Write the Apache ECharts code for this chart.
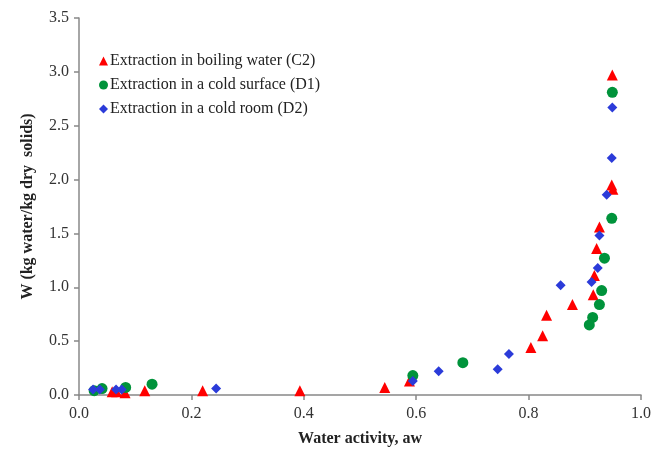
<!DOCTYPE html>
<html><head><meta charset="utf-8">
<script src="https://cdn.jsdelivr.net/npm/echarts@6/dist/echarts.min.js"></script>
<style>html,body{margin:0;padding:0;background:#fff}#c{width:670px;height:454px}</style>
</head><body><div id="c"></div>
<script>
const seriesNames = ["Extraction in boiling water (C2)", "Extraction in a cold surface (D1)", "Extraction in a cold room (D2)"];
const c2 = [[0.949,2.97],[0.948,1.95],[0.950,1.91],[0.926,1.56],[0.921,1.36],[0.917,1.11],[0.915,0.93],[0.878,0.84],[0.832,0.74],[0.825,0.55],[0.804,0.44],[0.588,0.13],[0.544,0.07],[0.393,0.04],[0.220,0.04],[0.117,0.04],[0.082,0.02],[0.067,0.03],[0.059,0.03]];
const d1 = [[0.949,2.81],[0.948,1.64],[0.935,1.27],[0.930,0.97],[0.926,0.84],[0.914,0.72],[0.908,0.65],[0.683,0.30],[0.594,0.18],[0.130,0.10],[0.083,0.07],[0.041,0.06],[0.027,0.04]];
const d2 = [[0.949,2.67],[0.948,2.20],[0.939,1.86],[0.926,1.48],[0.923,1.18],[0.912,1.05],[0.857,1.02],[0.765,0.38],[0.745,0.24],[0.640,0.22],[0.594,0.13],[0.244,0.06],[0.076,0.05],[0.066,0.05],[0.037,0.05],[0.025,0.05]];
const xTicks = [0,0.2,0.4,0.6,0.8,1.0];
const yTicks = [0,0.5,1.0,1.5,2.0,2.5,3.0,3.5];

const FONT = "'Liberation Serif','Times New Roman',serif";
const chart = echarts.init(document.getElementById('c'));
const axisCommon = {
  axisLine:{show:true,lineStyle:{color:'#888',width:1.5}},
  axisTick:{show:true,inside:false,length:5,lineStyle:{color:'#888',width:1.5}},
  splitLine:{show:false},
  axisLabel:{fontFamily:FONT,fontSize:16,color:'#333',formatter:v=>v.toFixed(1)},
  nameTextStyle:{fontFamily:FONT,fontSize:16,fontWeight:'bold',color:'#222'}
};
chart.setOption({
  animation:false,
  grid:{left:79,right:29,top:18,bottom:59},
  legend:{
    orient:'vertical',left:94,top:48,itemGap:8,itemWidth:9,itemHeight:9,
    textStyle:{fontFamily:FONT,fontSize:16,color:'#222',padding:[0,0,0,-3]},
    data:[{name:seriesNames[0],icon:'triangle'},{name:seriesNames[1],icon:'circle'},{name:seriesNames[2],icon:'diamond'}]
  },
  xAxis:Object.assign({},axisCommon,{type:'value',min:xTicks[0],max:xTicks[xTicks.length-1],interval:0.2,
    axisLabel:Object.assign({},axisCommon.axisLabel,{margin:11}),
    name:'Water activity, aw',nameLocation:'middle',nameGap:36}),
  yAxis:Object.assign({},axisCommon,{type:'value',min:yTicks[0],max:yTicks[yTicks.length-1],interval:0.5,
    axisLabel:Object.assign({},axisCommon.axisLabel,{margin:10}),
    name:'W (kg water/kg dry  solids)',nameLocation:'middle',nameGap:43}),
  series:[
    {name:seriesNames[0],type:'scatter',symbol:'triangle',symbolSize:11,itemStyle:{color:'#ff0000',opacity:1},data:c2},
    {name:seriesNames[1],type:'scatter',symbol:'circle',symbolSize:11,itemStyle:{color:'#00933b',opacity:1},data:d1},
    {name:seriesNames[2],type:'scatter',symbol:'diamond',symbolSize:10,itemStyle:{color:'#2b3bd9',opacity:1},data:d2}
  ]
});
</script></body></html>
